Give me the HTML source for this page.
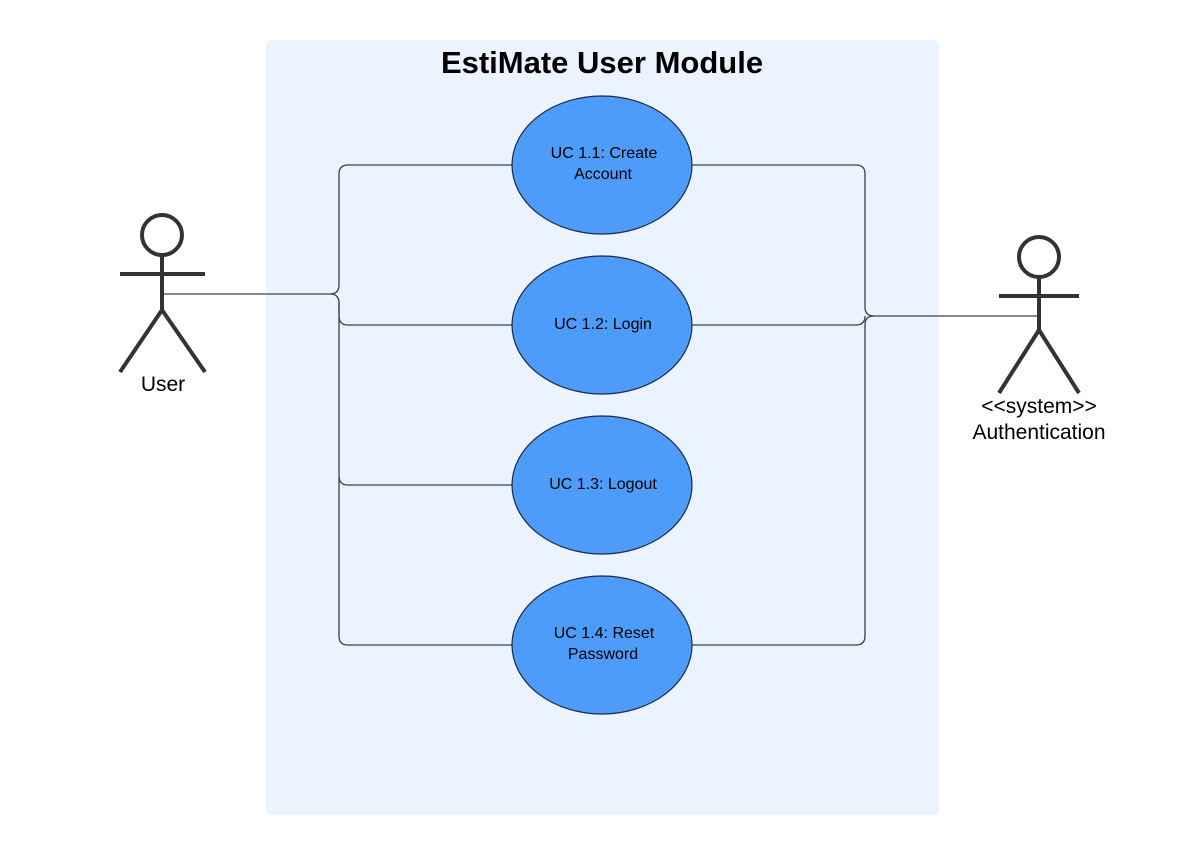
<!DOCTYPE html>
<html><head><style>
html,body{margin:0;padding:0;background:#fff;}
svg text{font-family:"Liberation Sans",sans-serif;}
</style></head><body>
<svg width="1200" height="857" xmlns="http://www.w3.org/2000/svg">
<rect x="266" y="40" width="673" height="775" rx="5" fill="#ebf4fe"/>
<text x="602" y="73" font-size="31" font-weight="bold" text-anchor="middle" fill="#000">EstiMate User Module</text>
<g fill="none" stroke="#3a4048" stroke-width="1.3">
<path d="M163 294 H330 Q339 294 339 285 V174 Q339 165 348 165 H512"/>
<path d="M330 294 Q339 294 339 303 V316 Q339 325 348 325 H512"/>
<path d="M339 303 V476 Q339 485 348 485 H512"/>
<path d="M339 476 V636 Q339 645 348 645 H512"/>
<path d="M692 165 H856 Q865 165 865 174 V307 Q865 316 874 316 H1038"/>
<path d="M692 325 H856 Q865 325 865 316"/>
<path d="M874 316 Q865 316 865 325 V636 Q865 645 856 645 H692"/>
</g>
<g fill="#4d9cfc" stroke="#1a2a40" stroke-width="1.2">
<ellipse cx="602" cy="165" rx="90" ry="69"/>
<ellipse cx="602" cy="325" rx="90" ry="69"/>
<ellipse cx="602" cy="485" rx="90" ry="69"/>
<ellipse cx="602" cy="645" rx="90" ry="69"/>
</g>
<g font-size="16" text-anchor="middle" fill="#000">
<text x="604" y="158">UC 1.1: Create</text><text x="603" y="179">Account</text>
<text x="603" y="329">UC 1.2: Login</text>
<text x="603" y="489">UC 1.3: Logout</text>
<text x="604" y="638">UC 1.4: Reset</text><text x="603" y="659">Password</text>
</g>
<g fill="none" stroke="#333" stroke-width="4">
<circle cx="162" cy="235" r="20"/>
<path d="M162 255 V310 M120 274 H205 M162 310 L120 372 M162 310 L205 372"/>
<circle cx="1039" cy="257" r="20"/>
<path d="M1039 277 V330 M999 296 H1079 M1039 330 L999 393 M1039 330 L1079 393"/>
</g>
<g font-size="21" text-anchor="middle" fill="#000">
<text x="163" y="391">User</text>
<text x="1039" y="413">&lt;&lt;system&gt;&gt;</text>
<text x="1039" y="439">Authentication</text>
</g>
</svg>
</body></html>
